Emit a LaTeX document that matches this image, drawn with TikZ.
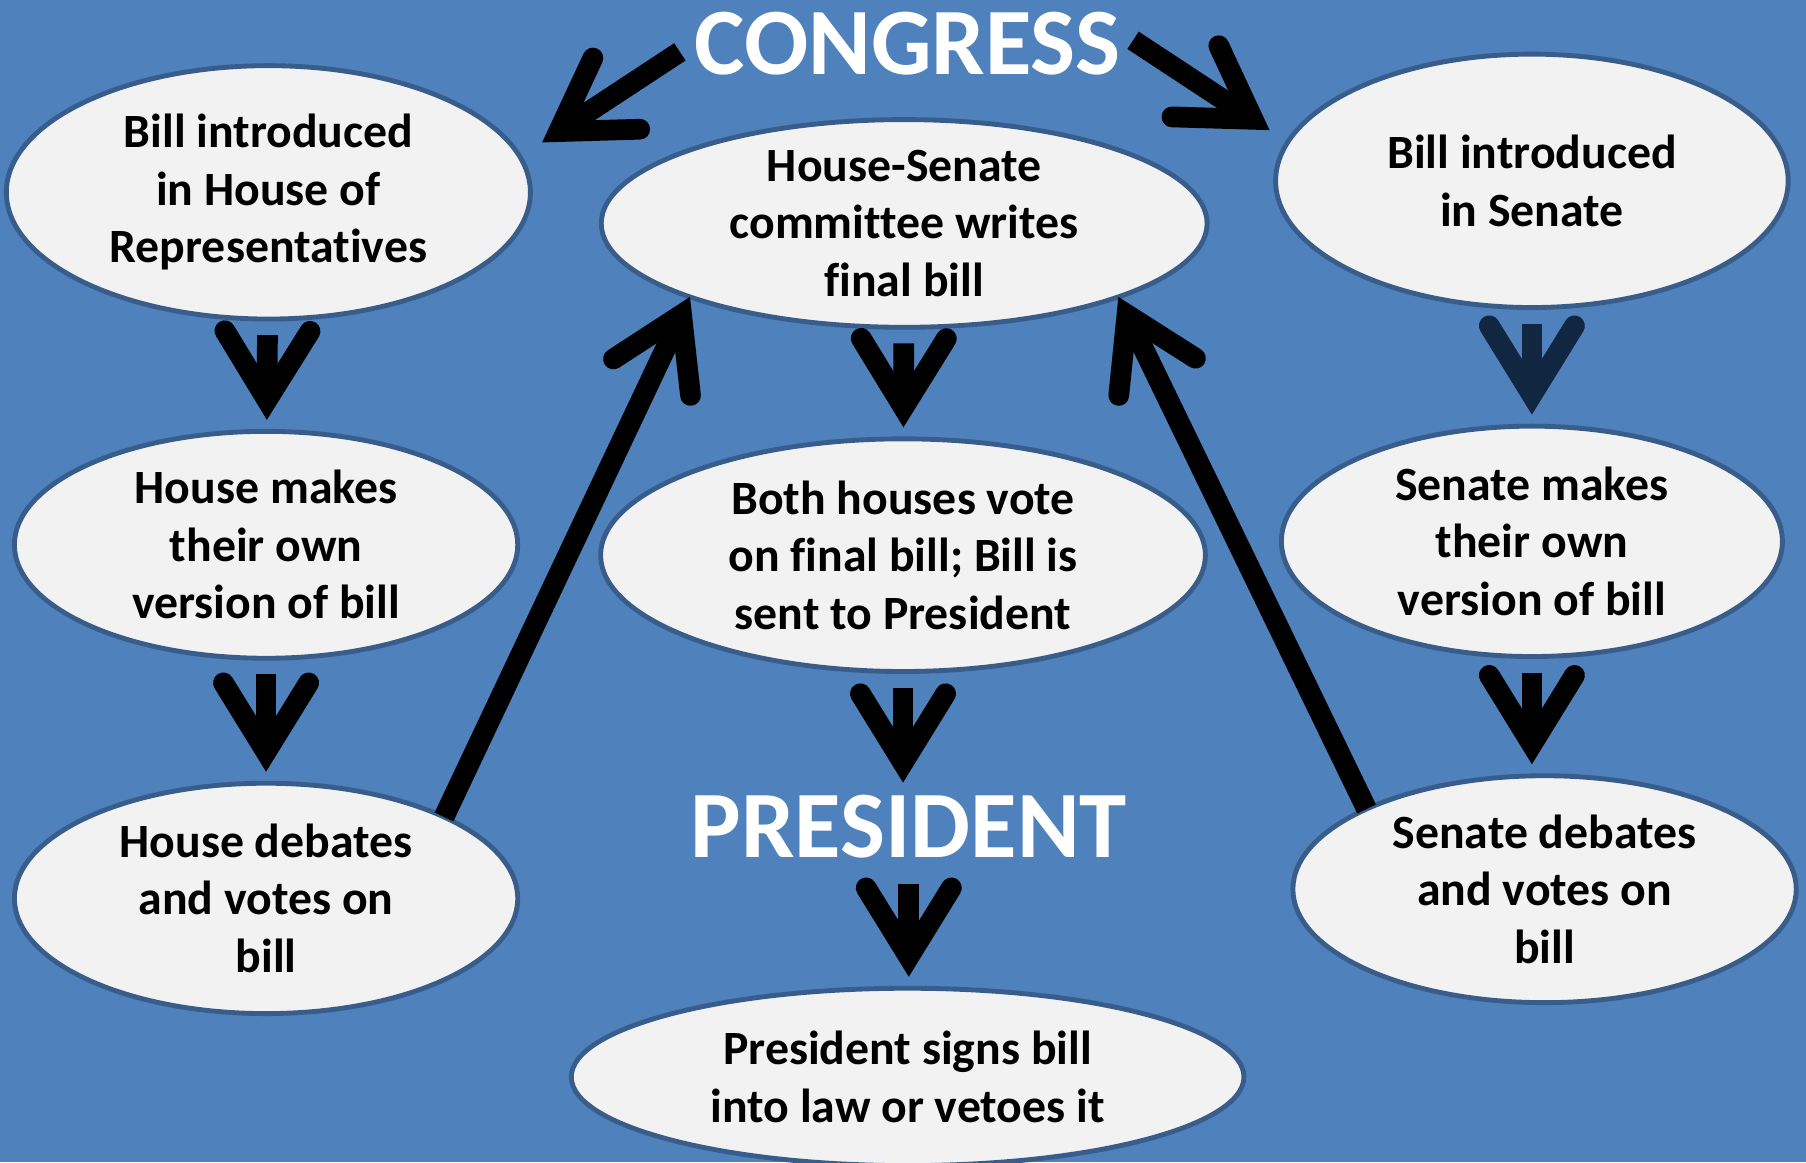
\documentclass[tikz,border=0pt]{standalone}
\usepackage{fontspec}
\setmainfont{Carlito}[Ligatures=NoCommon]
\usetikzlibrary{shapes.geometric,arrows.meta}

\definecolor{slideblue}{RGB}{79,129,189}
\definecolor{rimblue}{RGB}{56,93,138}
\definecolor{bubble}{RGB}{242,242,242}
\definecolor{navy}{RGB}{17,38,64}

\tikzset{
  stage/.style={ellipse, draw=rimblue, fill=bubble, line width=1.2pt, inner sep=0pt,
    outer sep=0pt, align=center, font=\fontsize{11.8}{14.23}\selectfont\bfseries},
  heading/.style={inner sep=0pt, text=white, font=\fontsize{23.5}{28}\selectfont\bfseries},
  flow/.style={line width=0.18cm,
    -{Straight Barb[length=6mm,width=7.4mm,line cap=round,line join=miter]}},
  downflow/.style={flow, shorten <=1.4mm, shorten >=1mm}
}

\begin{document}
\begin{tikzpicture}
      \clip (0,0) rectangle (15.68,10.09);
      \fill[slideblue] (0,0) rectangle (15.68,10.09);
      % house side
      \node[stage, minimum width=4.55cm, minimum height=2.2cm] (hintro) at (2.33,8.42)
          {Bill introduced\\in House of\\Representatives};
      \node[stage, minimum width=4.37cm, minimum height=1.97cm] (hmake) at (2.31,5.36)
          {House makes\\their own\\version of bill};
      \node[stage, minimum width=4.37cm, minimum height=2cm] (hdeb) at (2.31,2.29)
          {House debates\\and votes on\\bill};
      % senate side
      \node[stage, minimum width=4.45cm, minimum height=2.2cm] (sintro) at (13.3,8.52)
          {Bill introduced\\in Senate};
      \node[stage, minimum width=4.35cm, minimum height=2cm] (smake) at (13.3,5.39)
          {Senate makes\\their own\\version of bill};
      \node[stage, minimum width=4.37cm, minimum height=1.97cm] (sdeb) at (13.41,2.37)
          {Senate debates\\and votes on\\bill};
      % middle
      \node[stage, minimum width=5.26cm, minimum height=1.78cm] (comm) at (7.85,8.15)
          {House-Senate\\committee writes\\final bill};
      \node[stage, minimum width=5.25cm, minimum height=2.02cm] (both) at (7.84,5.27)
          {Both houses vote\\on final bill; Bill is\\sent to President};
      \node[stage, minimum width=5.84cm, minimum height=1.54cm] (signs) at (7.88,0.74)
          {President signs bill\\into law or vetoes it};
      \node[heading] (congress) at (7.88,9.71) {CONGRESS};
      \node[heading] (president) at (7.89,2.915) {PRESIDENT};
      % arrows
      \draw[flow, shorten >=2.3mm] ([shift={(-0.12,-0.07)}]congress.west) -- (hintro.8);
      \draw[flow, shorten >=1.9mm] ([shift={(0.1,0.03)}]congress.east) -- (sintro.171);
      \foreach \from/\to in {hintro/hmake,hmake/hdeb,comm/both}
      \draw[downflow] (\from) -- (\to);
      \draw[downflow, draw=navy] (sintro) -- (smake);
      \draw[downflow] (smake.south) -- (smake.south |- sdeb.north);
      \draw[downflow] (both.south) -- (both.south |- president.north);
      \draw[downflow, shorten <=2.2mm] (president.south) -- (president.south |- signs.north);
      \draw[flow] (hdeb.north east) -- (comm.south west);
      \draw[flow] (sdeb.north west) -- (comm.south east);
\end{tikzpicture}
\end{document}
